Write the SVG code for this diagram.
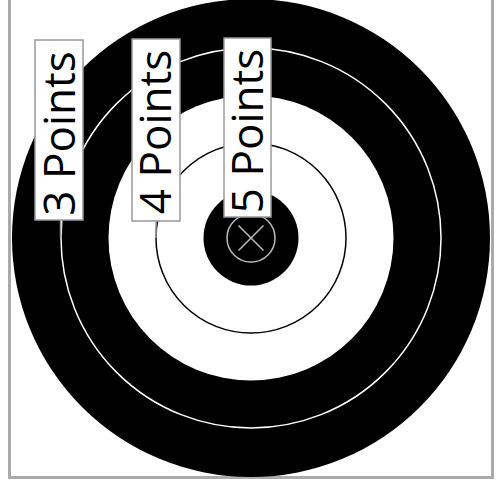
<svg xmlns="http://www.w3.org/2000/svg" width="503" height="487" viewBox="0 0 503 487">
<style>
.box{fill:#fff;stroke:#999;stroke-width:1.5}
.lbl{font-family:"Open Sans","Noto Sans",sans-serif;font-size:44px;fill:#000;text-anchor:middle}
.lead{stroke:#999;stroke-width:1.5;fill:none}
</style>
<rect x="0" y="0" width="503" height="487" fill="#fff"/>
<g id="target">
<rect x="9.5" y="-10" width="483" height="487.5" fill="#fff" stroke="#aaa" stroke-width="3"/>
<circle cx="251" cy="238" r="239" fill="#000"/>
<circle cx="251" cy="238" r="190" fill="none" stroke="#fff" stroke-width="1.5"/>
<circle cx="251" cy="238" r="142.5" fill="#fff"/>
<circle cx="251" cy="238" r="95" fill="none" stroke="#000" stroke-width="1.5"/>
<circle cx="251" cy="238" r="47.5" fill="#000"/>
<circle cx="251" cy="238" r="24" fill="none" stroke="#bbb" stroke-width="1.5"/>
<path d="M238.5 225.5 L263.5 250.5 M263.5 225.5 L238.5 250.5" stroke="#bbb" stroke-width="1.5" fill="none"/>
</g>
<g id="connectors">
<line class="lead" x1="60.5" y1="220" x2="60.5" y2="238"/>
<line class="lead" x1="156" y1="221" x2="156" y2="238"/>
</g>
<g id="label3">
<rect class="box" x="35" y="40" width="48" height="180"/>
<text class="lbl" transform="translate(75,133.5) rotate(-90)">3 Points</text>
</g>
<g id="label4">
<rect class="box" x="132" y="39" width="48" height="182"/>
<text class="lbl" transform="translate(171,132) rotate(-90)">4 Points</text>
</g>
<g id="label5">
<rect class="box" x="224" y="38" width="47" height="179"/>
<text class="lbl" transform="translate(263,131) rotate(-90)">5 Points</text>
</g>
</svg>
